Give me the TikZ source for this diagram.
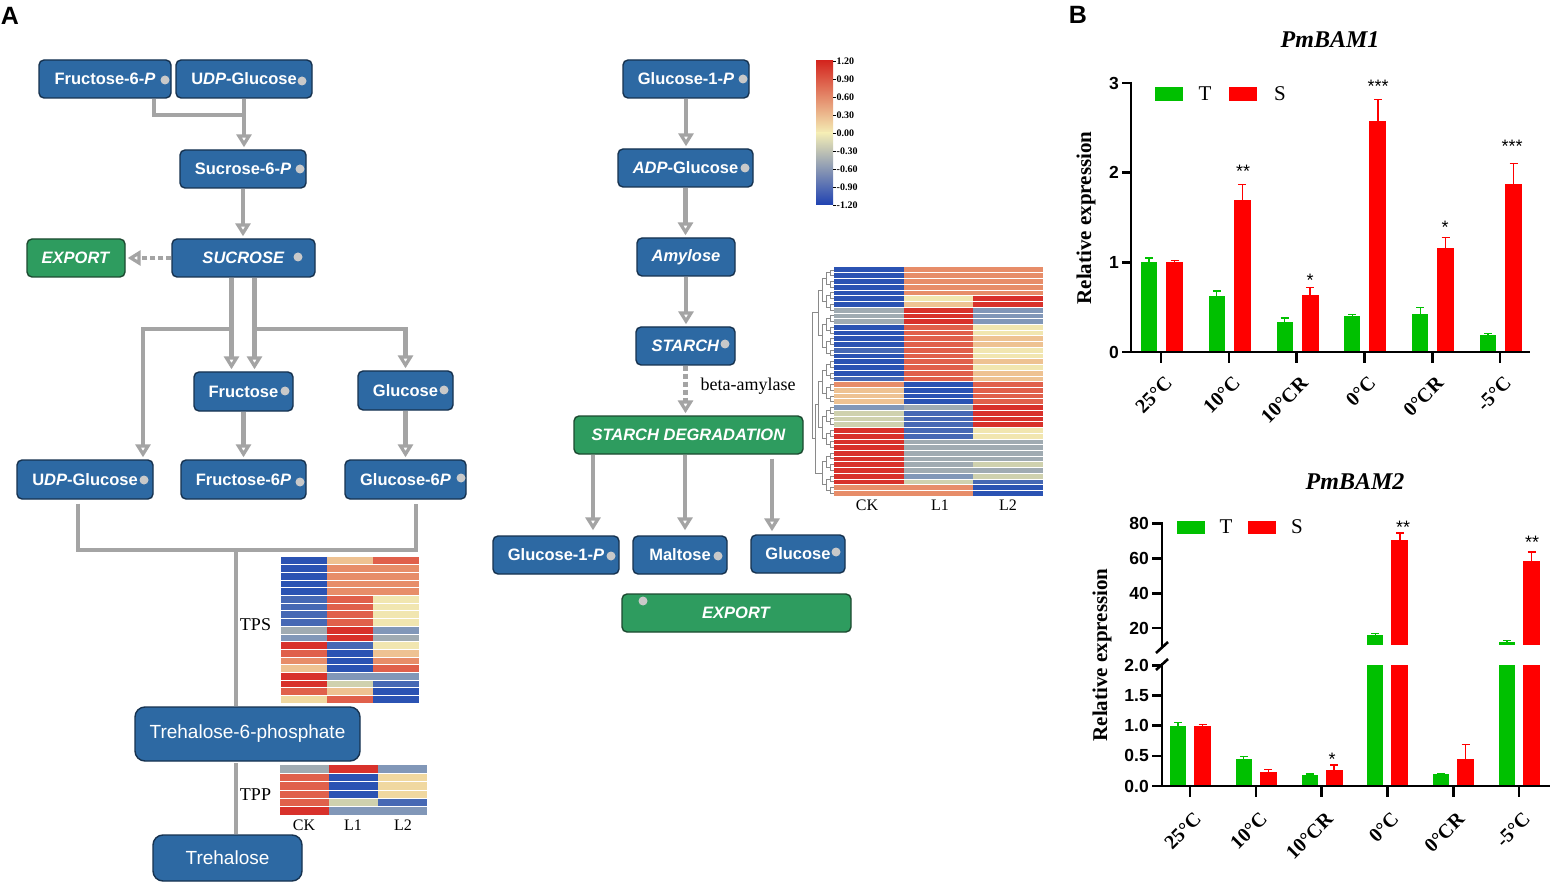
\documentclass[tikz,border=0pt]{standalone}
\usepackage{fontspec}
\setmainfont{Liberation Serif}
\setsansfont{Liberation Sans}
\usetikzlibrary{arrows.meta,calc}
\definecolor{boxblue}{HTML}{2D69A3}
\definecolor{boxedge}{HTML}{16324F}
\definecolor{boxgreen}{HTML}{2E9C5F}
\definecolor{greenedge}{HTML}{1C4A30}
\definecolor{pgray}{HTML}{A4A4A4}
\definecolor{dotgray}{HTML}{C9C9C9}
\definecolor{barg}{HTML}{00C000}
\definecolor{barr}{HTML}{FF0000}
\definecolor{dendc}{HTML}{8A8A8A}
\definecolor{hb}{HTML}{2B53B3}
\definecolor{hbb}{HTML}{4668B4}
\definecolor{hgb}{HTML}{8197B8}
\definecolor{hg}{HTML}{A0ABB2}
\definecolor{hgg}{HTML}{CFD1AE}
\definecolor{hy}{HTML}{F1E6B0}
\definecolor{hc}{HTML}{F0D8A0}
\definecolor{hlo}{HTML}{EEC292}
\definecolor{hs}{HTML}{E78D69}
\definecolor{hro}{HTML}{E0604B}
\definecolor{hr}{HTML}{D8312B}
\definecolor{cbR}{HTML}{D4261F}
\definecolor{cbO}{HTML}{E8906C}
\definecolor{cbY}{HTML}{F4EDB5}
\definecolor{cbG}{HTML}{8EA0BA}
\definecolor{cbB}{HTML}{1F42B2}
\begin{document}
\begin{tikzpicture}[x=1pt,y=-1pt,
  pbox/.style={rounded corners=5pt, fill=boxblue, draw=boxedge, line width=1.4pt, text=white, font=\sffamily\bfseries\fontsize{16.5}{18}\selectfont, inner sep=0pt},
  gbox/.style={pbox, fill=boxgreen, draw=greenedge},
  tbox/.style={pbox, rounded corners=10pt, font=\sffamily\fontsize{19}{21}\selectfont},
  gtip/.tip={Triangle[open, length=13pt, width=15pt, line width=3.5pt]},
  garrow/.style={draw=pgray, line width=4.5pt, -gtip, shorten >=2pt},
  gline/.style={draw=pgray, line width=4.5pt},
  gdash/.style={gline, dash pattern=on 5pt off 3pt, -gtip, shorten >=2pt},
  pdot/.style={circle, fill=dotgray, inner sep=0pt, minimum size=9pt},
  serlab/.style={font=\fontsize{18}{20}\selectfont, inner sep=0pt},
  hlab/.style={font=\fontsize{16}{18}\selectfont, inner sep=0pt},
  cblab/.style={font=\bfseries\fontsize{10}{11}\selectfont, inner sep=0pt, anchor=west},
  dend/.style={draw=dendc, line width=0.6pt},
  axisl/.style={draw=black, line width=2.6pt},
  ticklab/.style={font=\sffamily\bfseries\fontsize{17.5}{19}\selectfont, inner sep=0pt, anchor=east},
  xlab/.style={font=\bfseries\fontsize{20}{22}\selectfont, inner sep=0pt, anchor=north east, rotate=45},
  ylab/.style={font=\bfseries\fontsize{21}{23}\selectfont, inner sep=0pt, rotate=90},
  ttl/.style={font=\bfseries\itshape\fontsize{24}{26}\selectfont, inner sep=0pt},
  leglab/.style={font=\fontsize{21}{23}\selectfont, inner sep=0pt},
  starlab/.style={font=\sffamily\fontsize{18}{19}\selectfont, inner sep=0pt, anchor=base},
  panel/.style={font=\sffamily\bfseries\fontsize{25}{27}\selectfont, inner sep=0pt}
]
\useasboundingbox (0,0) rectangle (1550,882);
\fill[white] (0,0) rectangle (1550,882);

% panel letters
\node[panel] (pA) at (10,16) {A};
\node[panel] (pB) at (1078,15) {B};

% ---------- left pathway ----------
\node[pbox, minimum width=132pt, minimum height=38pt] (f6p) at (105,79) {Fructose-6-\textit{P}};
\node[pbox, minimum width=136pt, minimum height=38pt] (udpt) at (244,79) {U\textit{DP}-Glucose};
\node[pbox, minimum width=126pt, minimum height=38pt] (s6p) at (243,169) {Sucrose-6-\textit{P}};
\node[pbox, minimum width=143pt, minimum height=38pt] (suc) at (243.5,258) {\textit{SUCROSE}};
\node[gbox, minimum width=98pt, minimum height=38pt] (exp1) at (76,258) {\textit{EXPORT}};
\node[pbox, minimum width=99pt, minimum height=39pt] (fru) at (243.5,391.5) {Fructose};
\node[pbox, minimum width=95pt, minimum height=39pt] (glc) at (405.5,390.5) {Glucose};
\node[pbox, minimum width=136pt, minimum height=39pt] (udpb) at (85,479.5) {U\textit{DP}-Glucose};
\node[pbox, minimum width=125pt, minimum height=39pt] (f6pb) at (243.5,479.5) {Fructose-6\textit{P}};
\node[pbox, minimum width=121pt, minimum height=39pt] (g6pb) at (405.5,479.5) {Glucose-6\textit{P}};
\node[tbox, minimum width=225pt, minimum height=54pt] (t6p) at (247.5,734) {Trehalose-6-phosphate};
\node[tbox, minimum width=149pt, minimum height=46pt] (tre) at (227.5,858) {Trehalose};

% ---------- middle pathway ----------
\node[pbox, minimum width=126pt, minimum height=38pt] (g1p) at (686,79) {Glucose-1-\textit{P}};
\node[pbox, minimum width=135pt, minimum height=38pt] (adpg) at (685.5,168) {\textit{ADP}-Glucose};
\node[pbox, minimum width=98pt, minimum height=38pt] (amy) at (686,257) {\textit{Amylose}};
\node[pbox, minimum width=99pt, minimum height=38pt] (sta) at (685.5,346) {\textit{STARCH}};
\node[gbox, minimum width=229pt, minimum height=38pt] (sdeg) at (688.5,435) {\textit{STARCH DEGRADATION}};
\node[pbox, minimum width=126pt, minimum height=38pt] (g1pb) at (556,555) {Glucose-1-\textit{P}};
\node[pbox, minimum width=94pt, minimum height=38pt] (mal) at (680,555) {Maltose};
\node[pbox, minimum width=94pt, minimum height=38pt] (glcb) at (798,554) {Glucose};
\node[gbox, minimum width=229pt, minimum height=38pt] (exp2) at (736.5,613) {\textit{EXPORT}};

% dots
\foreach \px/\py [count=\k] in {165/80, 302/81, 300/169, 298/257, 285/391, 444/390, 144/480, 300/482, 461/478, 743/79, 745/168, 725/344, 611/556, 718/556, 836/552, 643/601}
  \node[pdot] (dot\k) at (\px,\py) {};

% connectors left
\coordinate (j1) at (244,115);
\draw[gline] ([xshift=49pt]f6p.south) |- (j1);
\draw[garrow] (udpt.south) -- (udpt.south |- s6p.north);
\draw[garrow] (s6p.south) -- (s6p.south |- suc.north);
\draw[gdash] (suc.west) -- (exp1.east);
\draw[garrow] ([xshift=-12pt]suc.south) -- ([xshift=-12pt]suc.south |- fru.north);
\draw[garrow] ([xshift=11pt]suc.south) -- ([xshift=11pt]suc.south |- fru.north);
\coordinate (h1) at (143,329);
\coordinate (h2) at (405.5,329);
\draw[garrow] ([xshift=-12pt]suc.south |- h1) -| (h1 |- udpb.north);
\draw[garrow] ([xshift=11pt]suc.south |- h1) -| (glc.north);
\draw[garrow] (fru.south) -- (fru.south |- f6pb.north);
\draw[garrow] (glc.south) -- (glc.south |- g6pb.north);
\coordinate (b1) at (236,550);
\draw[gline] ([xshift=-7pt,yshift=-4pt]udpb.south) |- (b1) -| ([xshift=10.5pt,yshift=-4pt]g6pb.south);
\draw[gline] (b1) -- (b1 |- t6p.north);
\coordinate (b2) at (236,763);
\draw[gline] (b2) -- (b2 |- tre.north);

% connectors middle
\draw[garrow] (g1p.south) -- (g1p.south |- adpg.north);
\draw[garrow] (adpg.south) -- (adpg.south |- amy.north);
\draw[garrow] (amy.south) -- (amy.south |- sta.north);
\draw[gdash] (sta.south) -- (sta.south |- sdeg.north);
\draw[garrow, shorten >=5pt] ([xshift=-95.5pt]sdeg.south) -- ([xshift=-95.5pt]sdeg.south |- g1pb.north);
\draw[garrow, shorten >=5pt] ([xshift=-3.5pt]sdeg.south) -- ([xshift=-3.5pt]sdeg.south |- mal.north);
\draw[garrow, shorten >=3pt] ([xshift=83.5pt,yshift=-4pt]sdeg.south) -- ([xshift=83.5pt]sdeg.south |- glcb.north);

% labels
\node[serlab] (tps) at (255.5,625) {TPS};
\node[serlab] (tpp) at (255.5,795) {TPP};
\node[serlab] (bam) at (748,386) {beta-amylase};

% ---------- TPS heatmap ----------
\foreach \ca/\cb/\cc [count=\i from 0] in {hb/hlo/hro, hb/hs/hs, hb/hs/hs, hb/hs/hs, hb/hs/hs, hbb/hro/hy, hbb/hro/hy, hbb/hro/hy, hbb/hro/hy, hg/hr/hgb, hgb/hr/hg, hr/hbb/hy, hro/hb/hlo, hs/hb/hs, hlo/hb/hro, hr/hgb/hgb, hr/hgg/hbb, hro/hlo/hb, hc/hro/hb}{
  \pgfmathsetmacro\yy{557+\i*7.684}
  \fill[\ca] (281,\yy) rectangle ++(46,7.684);
  \fill[\cb] (327,\yy) rectangle ++(46,7.684);
  \fill[\cc] (373,\yy) rectangle ++(46,7.684);
}
\foreach \i in {1,...,18}{
  \pgfmathsetmacro\yy{557+\i*7.684}
  \draw[white, line width=0.6pt] (281,\yy) -- (419,\yy);
}

% ---------- TPP heatmap ----------
\foreach \ca/\cb/\cc [count=\i from 0] in {hg/hr/hgb, hro/hb/hc, hro/hb/hc, hro/hb/hc, hro/hgg/hbb, hr/hgb/hgb}{
  \pgfmathsetmacro\yy{765+\i*8.333}
  \fill[\ca] (280,\yy) rectangle ++(49,8.333);
  \fill[\cb] (329,\yy) rectangle ++(49,8.333);
  \fill[\cc] (378,\yy) rectangle ++(49,8.333);
}
\foreach \i in {1,...,5}{
  \pgfmathsetmacro\yy{765+\i*8.333}
  \draw[white, line width=0.6pt] (280,\yy) -- (427,\yy);
}
\node[hlab] (tck) at (304,825) {CK};
\node[hlab] (tl1) at (353,825) {L1};
\node[hlab] (tl2) at (403,825) {L2};

% ---------- big heatmap ----------
\foreach \ca/\cb/\cc [count=\i from 0] in {hb/hs/hs, hb/hs/hs, hb/hs/hs, hb/hs/hs, hb/hs/hs, hb/hy/hr, hb/hlo/hr, hg/hr/hgb, hg/hr/hgb, hg/hr/hgb, hb/hro/hy, hb/hro/hy, hb/hro/hlo, hb/hro/hlo, hbb/hro/hy, hb/hro/hy, hb/hro/hlo, hb/hro/hy, hb/hro/hlo, hbb/hro/hlo, hs/hb/hro, hlo/hb/hro, hlo/hb/hro, hlo/hb/hro, hgb/hg/hr, hgg/hbb/hr, hgg/hbb/hr, hgg/hbb/hr, hr/hbb/hy, hr/hbb/hy, hr/hg/hg, hr/hg/hg, hr/hg/hg, hr/hg/hg, hr/hg/hgg, hr/hg/hg, hr/hgb/hgg, hr/hgg/hbb, hs/hs/hb, hs/hs/hb}{
  \pgfmathsetmacro\yy{267+\i*5.725}
  \fill[\ca] (834,\yy) rectangle ++(69.7,5.725);
  \fill[\cb] (903.7,\yy) rectangle ++(69.7,5.725);
  \fill[\cc] (973.4,\yy) rectangle ++(69.6,5.725);
}
\foreach \i in {1,...,39}{
  \pgfmathsetmacro\yy{267+\i*5.725}
  \draw[white, line width=0.5pt] (834,\yy) -- (1043,\yy);
}
% dendrogram
\foreach \k in {0,...,19}{
  \pgfmathsetmacro\ya{269.8625+(2*\k)*5.725}
  \pgfmathsetmacro\yb{269.8625+(2*\k+1)*5.725}
  \draw[dend] (834,\ya) -- (830,\ya) -- (830,\yb) -- (834,\yb);
}
\foreach \m in {0,...,9}{
  \pgfmathsetmacro\ya{269.8625+(4*\m+0.5)*5.725}
  \pgfmathsetmacro\yb{269.8625+(4*\m+2.5)*5.725}
  \draw[dend] (830,\ya) -- (826,\ya) -- (826,\yb) -- (830,\yb);
}
\foreach \n in {0,...,4}{
  \pgfmathsetmacro\ya{269.8625+(8*\n+1.5)*5.725}
  \pgfmathsetmacro\yb{269.8625+(8*\n+5.5)*5.725}
  \draw[dend] (826,\ya) -- (822,\ya) -- (822,\yb) -- (826,\yb);
}
\draw[dend] (822,289.9) -- (818,289.9) -- (818,335.7) -- (822,335.7);
\draw[dend] (822,381.5) -- (818,381.5) -- (818,427.3) -- (822,427.3);
\draw[dend] (818,404.4) -- (815,404.4) -- (815,473.1) -- (822,473.1);
\draw[dend] (818,312.8) -- (812,312.8) -- (812,438.75) -- (815,438.75);
\node[hlab] (bck) at (867,505) {CK};
\node[hlab] (bl1) at (940,505) {L1};
\node[hlab] (bl2) at (1008,505) {L2};

% ---------- colour bar ----------
\shade[top color=cbR, middle color=cbO, bottom color=cbY] (816,61) rectangle (833,133);
\shade[top color=cbY, middle color=cbG, bottom color=cbB] (816,133) rectangle (833,205);
\foreach \v [count=\k from 0] in {1.20,0.90,0.60,0.30,0.00,-0.30,-0.60,-0.90,-1.20}{
  \draw[black, line width=0.5pt] (833,{61+\k*18}) -- (836,{61+\k*18});
  \node[cblab] (cb\k) at (836.5,{61+\k*18}) {\v};
}

% ---------- chart 1 ----------
\node[ttl] (t1) at (1330,40) {PmBAM1};
\fill[barg] (1155,87) rectangle (1183,101);
\node[leglab] (lt1) at (1205,94) {T};
\fill[barr] (1229,87) rectangle (1257,101);
\node[leglab] (ls1) at (1280,94) {S};
\node[ylab] (yl1) at (1086,218) {Relative expression};
\foreach \i/\tv/\te/\sv/\se in {0/1.0/1.05/1.0/1.02, 1/0.62/0.68/1.70/1.87, 2/0.33/0.38/0.64/0.72, 3/0.40/0.42/2.58/2.82, 4/0.42/0.50/1.16/1.28, 5/0.19/0.21/1.87/2.10}{
  \pgfmathsetmacro\cx{1161+\i*67.8}
  \fill[barg] ({\cx-20},352) rectangle ({\cx-4},{352-\tv*89.6});
  \draw[barg, line width=1.3pt] ({\cx-12},{352-\tv*89.6}) -- ({\cx-12},{352-\te*89.6}) ({\cx-16},{352-\te*89.6}) -- ({\cx-8},{352-\te*89.6});
  \fill[barr] ({\cx+5},352) rectangle ({\cx+22},{352-\sv*89.6});
  \draw[barr, line width=1.3pt] ({\cx+13.5},{352-\sv*89.6}) -- ({\cx+13.5},{352-\se*89.6}) ({\cx+9.5},{352-\se*89.6}) -- ({\cx+17.5},{352-\se*89.6});
}
\draw[axisl] (1131,82) -- (1131,352) -- (1530,352);
\foreach \v in {0,1,2,3}{
  \draw[axisl] (1122,{352-\v*89.6}) -- (1131,{352-\v*89.6});
  \node[ticklab] (ya\v) at (1119,{352-\v*89.6}) {\v};
}
\foreach \lab [count=\i from 0] in {25°C,10°C,10°CR,0°C,0°CR,-5°C}{
  \draw[axisl] ({1161+\i*67.8},352) -- ++(0,11);
  \node[xlab] (xa\i) at ({1161+\i*67.8+3},375) {\lab};
}
\node[starlab] (s11) at (1243,178) {**};
\node[starlab] (s12) at (1310,287) {*};
\node[starlab] (s13) at (1378,93) {***};
\node[starlab] (s14) at (1445,234) {*};
\node[starlab] (s15) at (1512,153) {***};

% ---------- chart 2 ----------
\node[ttl] (t2) at (1355,482) {PmBAM2};
\fill[barg] (1177,521) rectangle (1205,534);
\node[leglab] (lt2) at (1226,527) {T};
\fill[barr] (1248,521) rectangle (1276,534);
\node[leglab] (ls2) at (1297,527) {S};
\node[ylab] (yl2) at (1102,655) {Relative expression};
\foreach \i/\tv/\te/\sv/\se in {0/1.0/1.05/1.0/1.02, 1/0.45/0.49/0.23/0.27, 2/0.18/0.20/0.27/0.35, 4/0.20/0.21/0.44/0.69}{
  \pgfmathsetmacro\cx{1190+\i*65.8}
  \fill[barg] ({\cx-20},786) rectangle ({\cx-4},{786-\tv*60.4});
  \draw[barg, line width=1.3pt] ({\cx-12},{786-\tv*60.4}) -- ({\cx-12},{786-\te*60.4}) ({\cx-16},{786-\te*60.4}) -- ({\cx-8},{786-\te*60.4});
  \fill[barr] ({\cx+4},786) rectangle ({\cx+21},{786-\sv*60.4});
  \draw[barr, line width=1.3pt] ({\cx+12.5},{786-\sv*60.4}) -- ({\cx+12.5},{786-\se*60.4}) ({\cx+8.5},{786-\se*60.4}) -- ({\cx+16.5},{786-\se*60.4});
}
\foreach \i/\tv/\te/\sv/\se in {3/16/17/70.6/74.6, 5/12/12.7/58.5/63.7}{
  \pgfmathsetmacro\cx{1190+\i*65.8}
  \fill[barg] ({\cx-20},786) rectangle ({\cx-4},665);
  \fill[barg] ({\cx-20},645) rectangle ({\cx-4},{628-(\tv-20)*1.74});
  \draw[barg, line width=1.3pt] ({\cx-12},{628-(\tv-20)*1.74}) -- ({\cx-12},{628-(\te-20)*1.74}) ({\cx-16},{628-(\te-20)*1.74}) -- ({\cx-8},{628-(\te-20)*1.74});
  \fill[barr] ({\cx+4},786) rectangle ({\cx+21},665);
  \fill[barr] ({\cx+4},645) rectangle ({\cx+21},{628-(\sv-20)*1.74});
  \draw[barr, line width=1.3pt] ({\cx+12.5},{628-(\sv-20)*1.74}) -- ({\cx+12.5},{628-(\se-20)*1.74}) ({\cx+8.5},{628-(\se-20)*1.74}) -- ({\cx+16.5},{628-(\se-20)*1.74});
}
\draw[axisl] (1162,522) -- (1162,648);
\draw[axisl] (1162,663) -- (1162,786) -- (1550,786);
\draw[axisl] (1156,653) -- (1168,642);
\draw[axisl] (1156,670) -- (1168,659);
\foreach \v in {80,60,40,20}{
  \draw[axisl] (1152,{628-(\v-20)*1.74}) -- (1162,{628-(\v-20)*1.74});
  \node[ticklab] (yu\v) at (1149,{628-(\v-20)*1.74}) {\v};
}
\foreach \v/\t [count=\k] in {0/0.0,0.5/0.5,1/1.0,1.5/1.5,2/2.0}{
  \draw[axisl] (1152,{786-\v*60.4}) -- (1162,{786-\v*60.4});
  \node[ticklab] (yd\k) at (1149,{786-\v*60.4}) {\t};
}
\foreach \lab [count=\i from 0] in {25°C,10°C,10°CR,0°C,0°CR,-5°C}{
  \draw[axisl] ({1190+\i*65.8},786) -- ++(0,11);
  \node[xlab] (xb\i) at ({1190+\i*65.8+3},811) {\lab};
}
\node[starlab] (s21) at (1332,765) {*};
\node[starlab] (s22) at (1403,533) {**};
\node[starlab] (s23) at (1532,548) {**};
\end{tikzpicture}
\end{document}
